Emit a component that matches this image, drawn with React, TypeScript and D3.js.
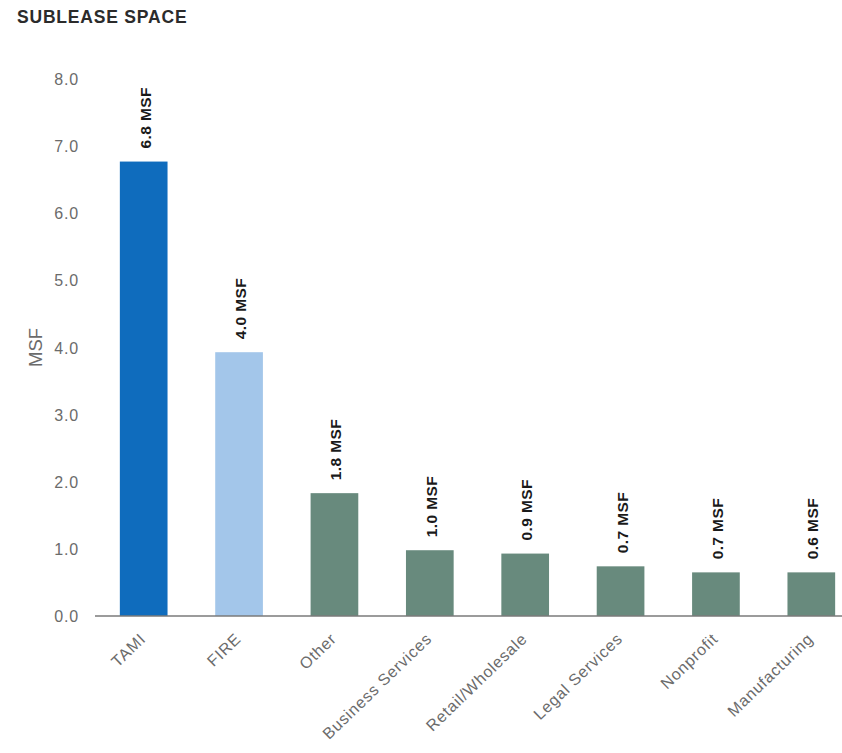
import React from "react";
import * as d3 from "d3";

const categories = ["TAMI", "FIRE", "Other", "Business Services", "Retail/Wholesale", "Legal Services", "Nonprofit", "Manufacturing"];
const values = [6.77, 3.93, 1.83, 0.98, 0.93, 0.74, 0.65, 0.65];
const valueLabels = ["6.8 MSF", "4.0 MSF", "1.8 MSF", "1.0 MSF", "0.9 MSF", "0.7 MSF", "0.7 MSF", "0.6 MSF"];
const yTicks = [0, 1, 2, 3, 4, 5, 6, 7, 8];
const barColors = ["#0f6cbd", "#a3c6ea", "#688a7d", "#688a7d", "#688a7d", "#688a7d", "#688a7d", "#688a7d"];

const W = 842;
const H = 753;

export default function App() {
  const y = d3.scaleLinear().domain([0, 8]).range([616, 79]);
  const x = d3.scaleBand().domain(categories).range([96, 859]).paddingInner(0.5).paddingOuter(0.25);
  const font = "Arial, 'Liberation Sans', sans-serif";
  return (
    <div style={{ position: "absolute", left: 0, top: 0 }}>
      <svg width={W} height={H} style={{ display: "block", background: "#fff" }}>
        <text x={17} y={23} fontFamily={font} fontWeight="bold" fontSize={17.5} fill="#2b2b2b" letterSpacing={0.8}>
          SUBLEASE SPACE
        </text>
        {yTicks.map((t) => (
          <text key={t} x={79} y={y(t) + 6} textAnchor="end" fontFamily={font} fontSize={16} fill="#6b6b6b" letterSpacing={0.8}>
            {d3.format(".1f")(t)}
          </text>
        ))}
        <text transform={`translate(42,${y(4)}) rotate(-90)`} textAnchor="middle" fontFamily={font} fontSize={18.5} fill="#6b6b6b">
          MSF
        </text>
        {categories.map((c, i) => (
          <rect key={c} x={x(c)} y={y(values[i])} width={x.bandwidth()} height={y(0) - y(values[i])} fill={barColors[i]} />
        ))}
        <line x1={95} x2={W} y1={y(0)} y2={y(0)} stroke="#7a7a7a" strokeWidth={1.5} />
        {categories.map((c, i) => {
          const cx = (x(c) as number) + x.bandwidth() / 2;
          return (
            <text
              key={c + "v"}
              transform={`translate(${cx + 7},${y(values[i]) - 13}) rotate(-90)`}
              fontFamily={font}
              fontWeight="bold"
              fontSize={15.5}
              fill="#1a1a1a"
              letterSpacing={0.4}
            >
              {valueLabels[i]}
            </text>
          );
        })}
        {categories.map((c) => {
          const cx = (x(c) as number) + x.bandwidth() / 2;
          return (
            <text
              key={c + "x"}
              transform={`translate(${cx + 3},${y(0) + 24}) rotate(-44)`}
              textAnchor="end"
              fontFamily={font}
              fontSize={16}
              fill="#6b6b6b"
              letterSpacing={0.8}
            >
              {c}
            </text>
          );
        })}
      </svg>
    </div>
  );
}
